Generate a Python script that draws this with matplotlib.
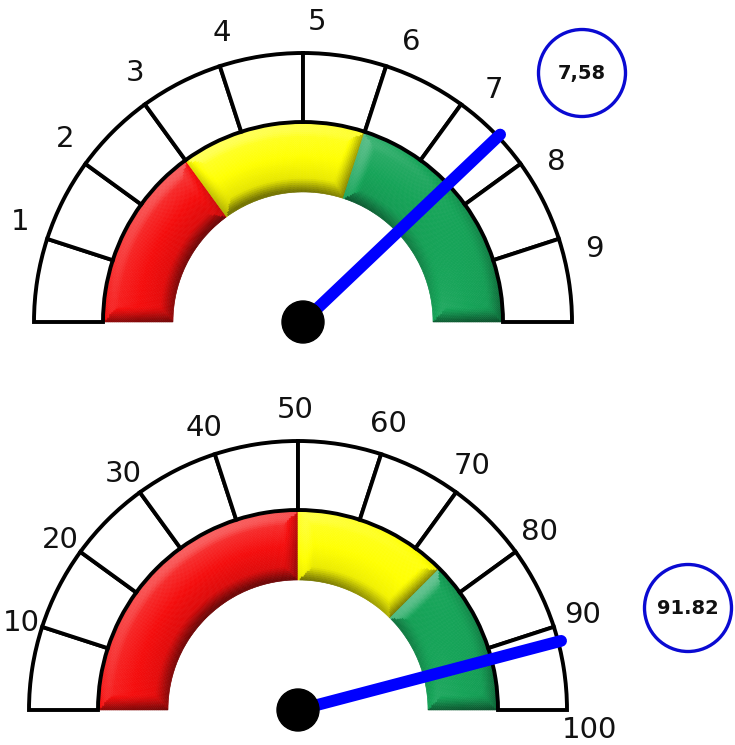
import numpy as np
import matplotlib
matplotlib.use("Agg")
import matplotlib.pyplot as plt
from matplotlib.patches import Wedge, Circle
from matplotlib.collections import PolyCollection

# upper gauge, scale 0..10
top_lo, top_hi = 0, 10
top_ticks = [1, 2, 3, 4, 5, 6, 7, 8, 9]
top_labels = ["1", "2", "3", "4", "5", "6", "7", "8", "9"]
top_bands = [0, 3, 6, 10]
top_value = 7.58
top_text = "7,58"

# lower gauge, scale 0..100
bot_lo, bot_hi = 0, 100
bot_ticks = [10, 20, 30, 40, 50, 60, 70, 80, 90, 100]
bot_labels = ["10", "20", "30", "40", "50", "60", "70", "80", "90", "100"]
bot_bands = [0, 50, 75, 100]
bot_value = 91.82
bot_text = "91.82"

band_colors = ["#f50c0c", "#ffff00", "#15a458"]

R_OUT, R_MID, R_IN = 269, 200, 130
LIGHT = np.array([-0.4, 0.75, 0.9])
LIGHT = LIGHT / np.linalg.norm(LIGHT)


def ang(v, lo, hi):
    return 180.0 - 180.0 * (v - lo) / (hi - lo)


def shaded_band(ax, cx, cy, a_hi, a_lo, color, w=15.0, smax=1.0):
    # band drawn as many small quads, each lit like a bevelled bar
    rgb = np.array(matplotlib.colors.to_rgb(color))
    n_r = 36
    n_t = max(10, int(np.radians(a_hi - a_lo) * R_MID / 2.0))
    rr = np.linspace(R_IN, R_MID, n_r + 1)
    tt = np.radians(np.linspace(a_lo, a_hi, n_t + 1))
    R, T = np.meshgrid(rr, tt, indexing="ij")
    X = cx + R * np.cos(T)
    Y = cy + R * np.sin(T)
    quads = np.stack([
        np.stack([X[:-1, :-1], Y[:-1, :-1]], -1),
        np.stack([X[1:, :-1], Y[1:, :-1]], -1),
        np.stack([X[1:, 1:], Y[1:, 1:]], -1),
        np.stack([X[:-1, 1:], Y[:-1, 1:]], -1),
    ], axis=2).reshape(-1, 4, 2)

    rm = 0.5 * (R[:-1, :-1] + R[1:, 1:])
    tm = 0.5 * (T[:-1, :-1] + T[1:, 1:])
    c, s = np.cos(tm), np.sin(tm)
    d = np.stack([rm - R_IN, R_MID - rm,
                  (tm - np.radians(a_lo)) * rm,
                  (np.radians(a_hi) - tm) * rm])
    ox = np.stack([-c, c, s, -s])
    oy = np.stack([-s, s, -c, c])
    k = np.argmin(d, axis=0)
    dmin = np.take_along_axis(d, k[None], 0)[0]
    dx = np.take_along_axis(ox, k[None], 0)[0]
    dy = np.take_along_axis(oy, k[None], 0)[0]
    slope = smax * np.clip(1 - dmin / w, 0, 1) ** 1.3
    g = 0.3 * (rm - 0.5 * (R_IN + R_MID)) / (0.5 * (R_MID - R_IN))
    nx = slope * dx + g * c
    ny = slope * dy + g * s
    nz = np.ones_like(nx)
    nn = np.sqrt(nx ** 2 + ny ** 2 + nz ** 2)
    lit = (nx * LIGHT[0] + ny * LIGHT[1] + nz * LIGHT[2]) / nn / LIGHT[2]
    lit = lit.reshape(-1, 1)
    cols = np.where(lit < 1, rgb * (0.45 + 0.55 * np.clip(lit, 0, 1)),
                    rgb + (1 - rgb) * np.clip(lit - 1, 0, 1) * 0.9)
    cols = np.clip(cols, 0, 1)
    pc = PolyCollection(quads, facecolors=cols, edgecolors=cols,
                        linewidths=0.4, zorder=1)
    ax.add_collection(pc)


def gauge(ax, cx, cy, lo, hi, ticks, labels, bands, value, text,
          box_xy, lab_shift, lab_tilt):
    edges = sorted(set([lo] + ticks + [hi]))
    for a, b in zip(edges[:-1], edges[1:]):
        ax.add_patch(Wedge((cx, cy), R_OUT, ang(b, lo, hi), ang(a, lo, hi),
                           width=R_OUT - R_MID, facecolor="white",
                           edgecolor="black", lw=2.8, zorder=2))
    for i in range(len(bands) - 1):
        shaded_band(ax, cx, cy, ang(bands[i], lo, hi), ang(bands[i + 1], lo, hi),
                    band_colors[i])
    for t, lab in zip(ticks, labels):
        a0 = ang(t, lo, hi)
        a = a0 + lab_shift + lab_tilt * np.cos(np.radians(a0))
        r = 300 - (len(lab) - 1) * 10 * max(0.0, -np.cos(np.radians(a0)))
        if a < 5:
            a, r = -4, 292
        ax.text(cx + r * np.cos(np.radians(a)), cy + r * np.sin(np.radians(a)),
                lab, fontsize=21, ha="center", va="center", color="#111111")
    a = np.radians(ang(value, lo, hi))
    ax.plot([cx, cx + 272 * np.cos(a)], [cy, cy + 272 * np.sin(a)],
            color="#0000ff", lw=8.5, solid_capstyle="round", zorder=4)
    ax.add_patch(Circle((cx, cy), 21, color="black", zorder=5))
    ax.add_patch(Circle(box_xy, 43.5, fill=False, edgecolor="#0a0ad2",
                        lw=2.4, zorder=3))
    ax.text(box_xy[0], box_xy[1], text, fontsize=14, fontweight="bold",
            ha="center", va="center", color="#111111")


fig = plt.figure(figsize=(7.35, 7.45), dpi=100)
ax = fig.add_axes([0, 0, 1, 1])
ax.set_xlim(0, 735)
ax.set_ylim(0, 745)
ax.axis("off")

gauge(ax, 303, 423, top_lo, top_hi, top_ticks, top_labels, top_bands,
      top_value, top_text, (582, 672), -2.7, -1.3)
gauge(ax, 298, 35, bot_lo, bot_hi, bot_ticks, bot_labels, bot_bands,
      bot_value, bot_text, (688, 137), 0.5, 0.0)

fig.savefig("out.png", dpi=100)
